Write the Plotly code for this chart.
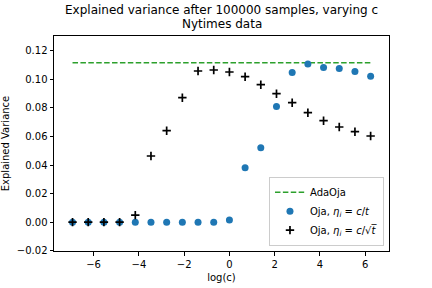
import numpy as np
import plotly.graph_objects as go

log_c = [float(np.log(2.0 ** k)) for k in range(-10, 10)]

oja_ct = [0.0, 0.0, 0.0, 0.0, 0.0, 0.0, 0.0, 0.0, 0.0, 0.0,
          0.0015, 0.038, 0.052, 0.081, 0.1048, 0.1107, 0.1083, 0.1076, 0.1055, 0.1022]
oja_csqrt = [0.0, 0.0, 0.0, 0.0, 0.0049, 0.0463, 0.064, 0.0871, 0.1058, 0.1065,
             0.1051, 0.1018, 0.0962, 0.0899, 0.0836, 0.0766, 0.071, 0.0666, 0.0633, 0.0603]
adaoja = 0.1116

title_lines = ["Explained variance after 100000 samples, varying c", "Nytimes data"]

FONT = "DejaVu Sans"

fig = go.Figure()
fig.add_trace(go.Scatter(
    x=[log_c[0], log_c[-1]], y=[adaoja, adaoja], mode="lines",
    line=dict(color="#2ca02c", dash="5.5px,2.4px", width=1.5),
    name="AdaOja"))
fig.add_trace(go.Scatter(
    x=log_c, y=oja_ct, mode="markers",
    marker=dict(color="#1f77b4", size=7, symbol="circle", line=dict(width=0)),
    name="Oja, <i>η<sub>i</sub></i> = <i>c</i>/<i>t</i>"))
fig.add_trace(go.Scatter(
    x=log_c, y=oja_csqrt, mode="markers",
    marker=dict(color="black", size=6, symbol="cross-thin", line=dict(width=1.7, color="black")),
    name="Oja, <i>η<sub>i</sub></i> = <i>c</i>/√<i>t\u0305</i>"))

axis_common = dict(
    showgrid=False, zeroline=False, showline=True, linecolor="black", linewidth=1,
    mirror=True, ticks="outside", ticklen=3.5, tickwidth=1, tickcolor="black",
    tickfont=dict(family=FONT, size=10, color="black"), automargin=False,
)

fig.update_layout(
    width=432, height=288,
    margin=dict(l=54, r=43, t=36, b=37),
    paper_bgcolor="white", plot_bgcolor="white",
    font=dict(family=FONT, size=10, color="black"),
    xaxis=dict(range=[-7.75, 7.05], tickvals=[-6, -4, -2, 0, 2, 4, 6],
               title=dict(text="log(c)", font=dict(family=FONT, size=10), standoff=5),
               **axis_common),
    yaxis=dict(range=[-0.0202, 0.1303], tickvals=[-0.02, 0, 0.02, 0.04, 0.06, 0.08, 0.10, 0.12],
               tickformat=".2f",
               title=dict(text="Explained Variance", font=dict(family=FONT, size=10), standoff=6),
               **axis_common),
    legend=dict(x=0.985, y=0.025, xanchor="right", yanchor="bottom",
                bgcolor="rgba(255,255,255,0.8)", bordercolor="#cccccc", borderwidth=1,
                font=dict(family=FONT, size=10, color="black"), tracegroupgap=2,
                itemwidth=30),
    showlegend=True,
)

for text, ypx in zip(title_lines, [10, 24]):
    fig.add_annotation(text=text, xref="paper", yref="paper", x=0.5, y=(251 - ypx) / 215,
                       xanchor="center", yanchor="middle", showarrow=False,
                       font=dict(family=FONT, size=12, color="black"))

fig.write_html("out.html", config={"displayModeBar": False},
               post_script="document.body.style.margin='0';document.body.style.padding='0';")
